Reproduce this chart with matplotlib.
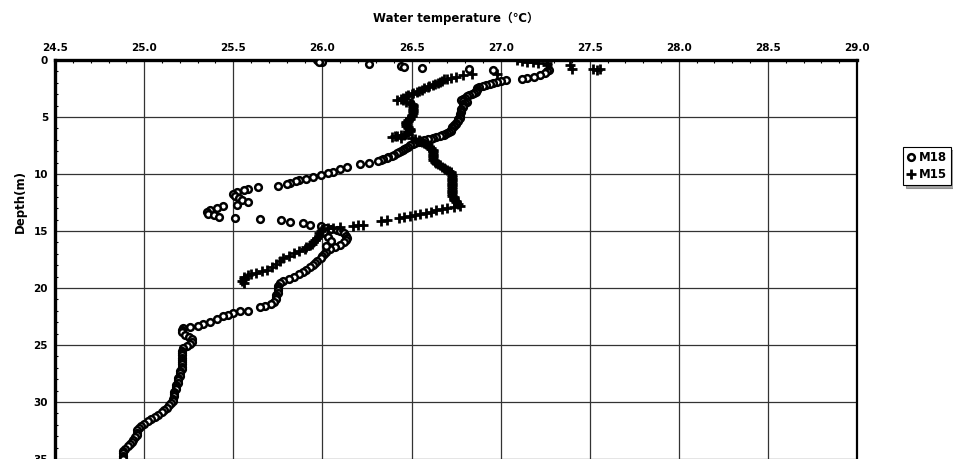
import matplotlib
matplotlib.use("Agg")
import matplotlib.pyplot as plt
from matplotlib.ticker import MultipleLocator

plt.rcParams['font.family'] = ['DejaVu Sans', 'Noto Sans CJK JP']

# M18 profile (open circles): temperature in deg C, depth in m
m18_temp = [
    25.97, 25.98, 25.99, 26.00, 25.98,
    26.26, 26.44, 26.46, 26.56, 26.82, 26.96,
    27.27, 27.26, 27.25, 27.22, 27.19, 27.15, 27.12, 27.03,
    27.00, 26.98, 26.96, 26.94, 26.92, 26.90, 26.88, 26.87, 26.87, 26.86,
    26.86, 26.85, 26.84, 26.82, 26.81, 26.80, 26.79, 26.78, 26.79, 26.81,
    26.80, 26.79, 26.79, 26.79, 26.78, 26.78, 26.78, 26.77, 26.77, 26.77,
    26.76, 26.76, 26.75, 26.75, 26.74, 26.74, 26.73, 26.73, 26.72, 26.72,
    26.71, 26.70, 26.69, 26.68, 26.67, 26.66, 26.64, 26.62, 26.61, 26.59,
    26.57, 26.55, 26.54, 26.52, 26.51, 26.49, 26.48, 26.47, 26.46, 26.45,
    26.44, 26.43, 26.42, 26.40, 26.39, 26.37, 26.36, 26.34, 26.33,
    26.31, 26.26, 26.21, 26.14, 26.10, 26.06, 26.03, 25.99, 25.95, 25.91,
    25.87, 25.85, 25.82, 25.80, 25.75, 25.64, 25.58, 25.56, 25.52, 25.50,
    25.51, 25.53, 25.55, 25.58, 25.52, 25.44, 25.41, 25.37, 25.35, 25.36,
    25.39, 25.42, 25.51, 25.65, 25.77, 25.82, 25.89, 25.93, 25.99,
    26.02, 26.05, 26.08, 26.10, 26.12, 26.13, 26.14, 26.13, 26.12, 26.10,
    26.07, 26.04, 26.02, 26.01, 26.03, 26.05, 26.02,
    26.01, 26.00, 25.99, 25.97, 25.96, 25.95, 25.93, 25.91, 25.89, 25.87,
    25.84, 25.81, 25.78, 25.76, 25.75, 25.75, 25.75, 25.75, 25.74, 25.74,
    25.74, 25.73, 25.71, 25.68, 25.65,
    25.58, 25.54, 25.50, 25.47, 25.44, 25.41, 25.37, 25.33, 25.30, 25.26,
    25.22, 25.21, 25.21, 25.23, 25.25, 25.27, 25.27, 25.26, 25.24, 25.22,
    25.21, 25.21, 25.21, 25.21, 25.21, 25.21, 25.21, 25.21, 25.21, 25.20,
    25.20, 25.20, 25.19, 25.19, 25.19, 25.18, 25.18, 25.18, 25.17, 25.17,
    25.17, 25.16, 25.16, 25.15, 25.14, 25.13, 25.11, 25.10, 25.08, 25.06,
    25.04, 25.02, 25.00, 24.98, 24.97, 24.96, 24.96, 24.96, 24.95, 24.94,
    24.93, 24.92, 24.91, 24.89, 24.88, 24.88, 24.88, 24.88, 24.88,
]
m18_depth = [
    0.00, 0.05, 0.10, 0.15, 0.20,
    0.35, 0.50, 0.60, 0.70, 0.80, 0.90,
    0.90, 1.00, 1.15, 1.30, 1.50, 1.60, 1.65, 1.75,
    1.80, 1.90, 2.00, 2.10, 2.20, 2.30, 2.40, 2.50, 2.60, 2.70,
    2.80, 2.90, 3.00, 3.10, 3.20, 3.30, 3.40, 3.50, 3.60, 3.70,
    3.80, 3.90, 4.00, 4.15, 4.30, 4.45, 4.60, 4.75, 4.90, 5.05,
    5.20, 5.35, 5.50, 5.60, 5.70, 5.80, 5.90, 6.00, 6.10, 6.20,
    6.30, 6.40, 6.50, 6.55, 6.60, 6.65, 6.75, 6.85, 6.90, 6.95,
    7.00, 7.10, 7.20, 7.30, 7.40, 7.50, 7.60, 7.70, 7.80, 7.90,
    8.00, 8.10, 8.20, 8.30, 8.40, 8.50, 8.60, 8.70, 8.80,
    8.85, 9.00, 9.10, 9.40, 9.60, 9.80, 9.90, 10.10, 10.30, 10.40,
    10.50, 10.60, 10.80, 10.85, 11.05, 11.15, 11.30, 11.40, 11.55, 11.75,
    11.90, 12.10, 12.30, 12.50, 12.70, 12.85, 13.00, 13.15, 13.30, 13.50,
    13.60, 13.80, 13.90, 13.95, 14.05, 14.20, 14.30, 14.45, 14.60,
    14.70, 14.80, 14.90, 15.00, 15.20, 15.40, 15.60, 15.80, 16.00, 16.20,
    16.40, 16.60, 16.80, 15.10, 15.50, 15.90, 16.30,
    17.00, 17.20, 17.40, 17.60, 17.80, 18.00, 18.20, 18.40, 18.60, 18.80,
    19.00, 19.20, 19.40, 19.60, 19.80, 20.00, 20.20, 20.40, 20.60, 20.80,
    21.00, 21.20, 21.40, 21.55, 21.70,
    22.00, 22.00, 22.20, 22.35, 22.50, 22.70, 23.00, 23.15, 23.30, 23.40,
    23.50, 23.70, 23.90, 24.10, 24.30, 24.50, 24.70, 24.90, 25.10, 25.30,
    25.50, 25.70, 25.90, 26.10, 26.30, 26.50, 26.70, 26.90, 27.10, 27.30,
    27.50, 27.70, 27.90, 28.10, 28.30, 28.50, 28.70, 28.90, 29.10, 29.30,
    29.50, 29.70, 29.90, 30.10, 30.30, 30.50, 30.70, 30.90, 31.10, 31.30,
    31.50, 31.70, 31.90, 32.10, 32.30, 32.50, 32.70, 32.90, 33.10, 33.30,
    33.50, 33.70, 33.90, 34.10, 34.30, 34.50, 34.70, 34.90, 35.00,
]

# M15 profile (plus signs)
m15_temp = [
    27.09, 27.12, 27.15, 27.18, 27.21, 27.26, 27.26, 27.39, 27.40, 27.52,
    27.56, 27.54,
    26.98, 26.84, 26.79, 26.75, 26.72, 26.70, 26.68,
    26.67, 26.66, 26.65, 26.63, 26.62, 26.60, 26.59, 26.57, 26.56, 26.54,
    26.53, 26.51, 26.50, 26.48, 26.47, 26.45, 26.44, 26.42, 26.45, 26.47,
    26.49, 26.50, 26.51, 26.51, 26.51, 26.51, 26.51, 26.51, 26.50, 26.50,
    26.49, 26.49, 26.48, 26.48, 26.47, 26.47, 26.47, 26.47, 26.48, 26.48,
    26.49, 26.49, 26.49, 26.48, 26.47, 26.46, 26.44, 26.42, 26.39, 26.41,
    26.44, 26.50, 26.52, 26.54, 26.55, 26.56, 26.57, 26.58, 26.59, 26.60,
    26.61, 26.61, 26.62, 26.62, 26.62, 26.62, 26.62, 26.62, 26.62, 26.63,
    26.63, 26.64, 26.65, 26.66, 26.67, 26.68, 26.69, 26.70, 26.71, 26.72,
    26.72, 26.73, 26.73, 26.73, 26.73, 26.73, 26.73, 26.73, 26.73, 26.73,
    26.73, 26.73, 26.73, 26.73, 26.74, 26.74, 26.74, 26.74, 26.75, 26.75,
    26.76, 26.77,
    26.74, 26.70, 26.67, 26.64, 26.61, 26.58, 26.55, 26.52, 26.49, 26.46,
    26.43, 26.36, 26.33, 26.23, 26.20, 26.17, 26.10, 26.06,
    26.03, 26.00, 25.99, 25.98, 25.98, 25.97, 25.96, 25.95, 25.94, 25.93,
    25.91, 25.90, 25.87, 25.84, 25.81, 25.78, 25.76, 25.74, 25.72, 25.69,
    25.66, 25.63, 25.60, 25.58, 25.56, 25.56, 25.55, 25.56,
]
m15_depth = [
    0.00, 0.05, 0.15, 0.20, 0.25, 0.30, 0.45, 0.45, 0.75, 0.80,
    0.80, 0.85,
    1.25, 1.20, 1.30, 1.45, 1.55, 1.65, 1.70,
    1.80, 1.90, 2.00, 2.10, 2.20, 2.30, 2.40, 2.50, 2.60, 2.70,
    2.80, 2.90, 3.00, 3.10, 3.20, 3.30, 3.40, 3.50, 3.55, 3.65,
    3.75, 3.85, 3.95, 4.05, 4.20, 4.35, 4.50, 4.65, 4.80, 4.95,
    5.05, 5.15, 5.25, 5.35, 5.45, 5.55, 5.65, 5.75, 5.85, 5.95,
    6.05, 6.15, 6.25, 6.35, 6.45, 6.55, 6.60, 6.65, 6.75, 6.70,
    6.85, 6.80, 6.90, 7.00, 7.10, 7.20, 7.30, 7.40, 7.50, 7.60,
    7.70, 7.80, 7.90, 8.00, 8.15, 8.30, 8.45, 8.60, 8.75, 8.85,
    8.95, 9.05, 9.15, 9.25, 9.35, 9.45, 9.55, 9.65, 9.75, 9.85,
    9.95, 10.10, 10.25, 10.40, 10.55, 10.70, 10.85, 11.00, 11.15, 11.30,
    11.45, 11.60, 11.75, 11.90, 12.00, 12.10, 12.20, 12.30, 12.40, 12.50,
    12.65, 12.80,
    12.90, 13.00, 13.10, 13.20, 13.30, 13.40, 13.50, 13.60, 13.70, 13.80,
    13.85, 14.00, 14.10, 14.45, 14.50, 14.55, 14.65, 14.70,
    14.75, 14.80, 15.00, 15.20, 15.40, 15.60, 15.80, 15.95, 16.10, 16.25,
    16.40, 16.55, 16.75, 16.95, 17.15, 17.35, 17.60, 17.90, 18.20, 18.45,
    18.55, 18.65, 18.75, 18.85, 19.00, 19.20, 19.40, 19.60,
]

x_ticks = [24.5, 25.0, 25.5, 26.0, 26.5, 27.0, 27.5, 28.0, 28.5, 29.0]
y_ticks = [0, 5, 10, 15, 20, 25, 30, 35]

fig = plt.figure(figsize=(9.54, 4.59), dpi=100)
ax = fig.add_axes([0.0577, 0.0, 0.8407, 0.8693])

ax.plot(m18_temp, m18_depth, linestyle='none', marker='o', ms=4.8,
        mfc='white', mec='black', mew=1.8, label='M18', zorder=3)
ax.plot(m15_temp, m15_depth, linestyle='none', marker='+', ms=6.5,
        color='black', mew=2.0, label='M15', zorder=4)

ax.set_xlim(24.5, 29.0)
ax.set_ylim(35, 0)
ax.set_xticks(x_ticks)
ax.set_xticklabels([f"{v:.1f}" for v in x_ticks])
ax.set_yticks(y_ticks)
ax.xaxis.set_minor_locator(MultipleLocator(0.1))
ax.yaxis.set_minor_locator(MultipleLocator(1))
ax.xaxis.tick_top()
ax.tick_params(axis='both', which='major', direction='in', length=0,
               labelsize=7.5, pad=5)
ax.tick_params(axis='both', which='minor', direction='in', length=2, width=0.8)
for lab in ax.get_xticklabels() + ax.get_yticklabels():
    lab.set_fontweight('bold')

ax.grid(True, which='major', color='#333333', linewidth=0.9)
ax.set_axisbelow(True)

ax.spines['top'].set_linewidth(2.4)
ax.spines['left'].set_linewidth(2.4)
ax.spines['right'].set_linewidth(1.6)
ax.spines['bottom'].set_visible(False)

fig.text(0.478, 0.96, "Water temperature（℃）", ha='center', va='center',
         fontsize=8.5, fontweight='bold')
fig.text(0.021, 0.56, "Depth(m)", ha='center', va='center', rotation=90,
         fontsize=8.5, fontweight='bold')

leg = fig.legend(loc='upper left', bbox_to_anchor=(0.947, 0.68),
                 frameon=True, fancybox=False, shadow=True,
                 handlelength=0.6, handletextpad=0.35, borderpad=0.35,
                 labelspacing=0.35, borderaxespad=0.0,
                 prop={'weight': 'bold', 'size': 8.5})
leg.get_frame().set_edgecolor('black')
leg.get_frame().set_linewidth(0.8)

fig.savefig("out.png", dpi=100)
